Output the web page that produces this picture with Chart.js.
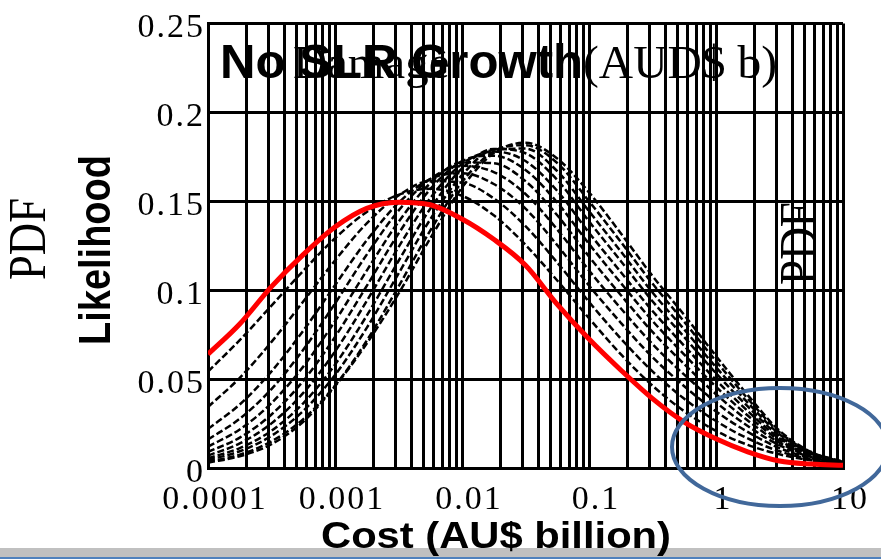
<!DOCTYPE html>
<html><head><meta charset="utf-8">
<script src="https://cdn.jsdelivr.net/npm/chart.js@4/dist/chart.umd.min.js"></script>
<style>html,body{margin:0;padding:0;background:#fff;}#wrap{position:relative;width:881px;height:559px;}canvas{display:block;}</style>
</head><body><div id="wrap"><canvas id="c"></canvas></div>
<script>
// Cost (AU$ billion) sample points on the log axis
const costX = [0.0001, 0.0001778, 0.0003162, 0.0005623, 0.001, 0.001778, 0.003162, 0.005623, 0.01, 0.01778, 0.03162, 0.05623, 0.1, 0.1778, 0.3162, 0.5623, 1, 1.778, 3.162, 5.623, 10];
// red: No SLR growth
const noSlr = [0.064, 0.081, 0.102, 0.120, 0.1355, 0.146, 0.1495, 0.148, 0.140, 0.1286, 0.114, 0.092, 0.0725, 0.0551, 0.039, 0.0258, 0.0164, 0.0091, 0.0039, 0.0022, 0.0015];
// black dashed family
const pdf01 = [0.0542, 0.0719, 0.0913, 0.1109, 0.1292, 0.1440, 0.1536, 0.1570, 0.1531, 0.1421, 0.1255, 0.1054, 0.0842, 0.0640, 0.0463, 0.0319, 0.0209, 0.0130, 0.0077, 0.0043, 0.0023];
const pdf02 = [0.0343, 0.0507, 0.0709, 0.0936, 0.1167, 0.1376, 0.1532, 0.1613, 0.1605, 0.1516, 0.1360, 0.1155, 0.0934, 0.0728, 0.0543, 0.0389, 0.0264, 0.0166, 0.0094, 0.0049, 0.0025];
const pdf03 = [0.0220, 0.0357, 0.0543, 0.0772, 0.1028, 0.1280, 0.1491, 0.1625, 0.1658, 0.1597, 0.1458, 0.1253, 0.1026, 0.0817, 0.0623, 0.0460, 0.0318, 0.0203, 0.0112, 0.0055, 0.0026];
const pdf04 = [0.0160, 0.0277, 0.0444, 0.0665, 0.0925, 0.1200, 0.1447, 0.1625, 0.1700, 0.1664, 0.1541, 0.1341, 0.1111, 0.0898, 0.0697, 0.0525, 0.0369, 0.0236, 0.0128, 0.0061, 0.0028];
const pdf05 = [0.0120, 0.0217, 0.0365, 0.0570, 0.0826, 0.1110, 0.1384, 0.1601, 0.1718, 0.1714, 0.1613, 0.1421, 0.1189, 0.0973, 0.0765, 0.0584, 0.0415, 0.0267, 0.0142, 0.0066, 0.0029];
const pdf06 = [0.0090, 0.0171, 0.0301, 0.0490, 0.0737, 0.1024, 0.1318, 0.1568, 0.1725, 0.1756, 0.1676, 0.1493, 0.1260, 0.1041, 0.0827, 0.0638, 0.0457, 0.0295, 0.0155, 0.0071, 0.0030];
const pdf07 = [0.0070, 0.0138, 0.0251, 0.0422, 0.0655, 0.0939, 0.1242, 0.1517, 0.1710, 0.1780, 0.1726, 0.1558, 0.1323, 0.1102, 0.0883, 0.0687, 0.0495, 0.0320, 0.0167, 0.0075, 0.0031];
const pdf08 = [0.0055, 0.0112, 0.0210, 0.0364, 0.0581, 0.0857, 0.1164, 0.1458, 0.1684, 0.1794, 0.1770, 0.1620, 0.1387, 0.1164, 0.0938, 0.0736, 0.0533, 0.0346, 0.0179, 0.0079, 0.0032];
const pdf09 = [0.0045, 0.0094, 0.0181, 0.0321, 0.0523, 0.0788, 0.1093, 0.1398, 0.1647, 0.1790, 0.1796, 0.1669, 0.1444, 0.1218, 0.0987, 0.0779, 0.0567, 0.0368, 0.0190, 0.0083, 0.0033];
const pdf10 = [0.0035, 0.0075, 0.0150, 0.0275, 0.0463, 0.0716, 0.1020, 0.1335, 0.1608, 0.1781, 0.1815, 0.1715, 0.1500, 0.1272, 0.1037, 0.0822, 0.0601, 0.0390, 0.0201, 0.0087, 0.0034];
const pdf11 = [0.0030, 0.0066, 0.0134, 0.0260, 0.0460, 0.0700, 0.0980, 0.1291, 0.1577, 0.1771, 0.1829, 0.1740, 0.1550, 0.1320, 0.1080, 0.0860, 0.0630, 0.0410, 0.0210, 0.0090, 0.0035];
const blackSeries = [pdf01, pdf02, pdf03, pdf04, pdf05, pdf06, pdf07, pdf08, pdf09, pdf10, pdf11];

// axes
const xDecades = [0.0001, 0.001, 0.01, 0.1, 1, 10];
const xTickLabels = ['0.0001', '0.001', '0.01', '0.1', '1', '10'];
const xMultipliers = [1, 2, 3, 4, 5, 6, 7, 8, 9];
const yTickValues = [0, 0.05, 0.1, 0.15, 0.2, 0.25];
const yTickLabels = ['0', '0.05', '0.1', '0.15', '0.2', '0.25'];

const xGridValues = [];
xDecades.forEach((d, i) => {
  if (i < xDecades.length - 1) xMultipliers.forEach(m => xGridValues.push(+(d * m).toPrecision(6)));
  else xGridValues.push(d);
});

function pts(arr) { return costX.map((x, i) => ({ x: x, y: arr[i] })); }

const datasets = [{
  label: 'No SLR Growth', data: pts(noSlr), borderColor: '#ff0000', borderWidth: 5,
  pointRadius: 0, cubicInterpolationMode: 'monotone', fill: false
}];
blackSeries.forEach((s, i) => datasets.push({
  label: 'PDF ' + (i + 1), data: pts(s), borderColor: '#000000', borderWidth: 2.5,
  borderDash: [7, 3], pointRadius: 0, cubicInterpolationMode: 'monotone', fill: false
}));

function fitText(ctx, text, font, x, y, len, rot, sy) {
  ctx.save();
  ctx.font = font;
  ctx.letterSpacing = '0px';
  ctx.fillStyle = '#000';
  ctx.textAlign = 'left';
  ctx.textBaseline = 'alphabetic';
  const w = ctx.measureText(text).width;
  ctx.translate(x, y);
  if (rot) ctx.rotate(rot * Math.PI / 180);
  ctx.scale(len ? len / w : 1, sy);
  ctx.fillText(text, 0, 0);
  ctx.restore();
}

const decor = {
  id: 'decor',
  beforeDraw(chart) { chart.ctx.letterSpacing = '2px'; },
  afterDraw(chart) {
    const ctx = chart.ctx;
    ctx.save();
    ctx.letterSpacing = '0px';
    ctx.fillStyle = '#c0c0c0';
    ctx.fillRect(0, 548, 881, 9);
    ctx.fillStyle = '#4f81bd';
    ctx.fillRect(0, 557, 881, 2);
    ctx.strokeStyle = '#41689a';
    ctx.lineWidth = 4;
    ctx.beginPath();
    ctx.ellipse(780, 447, 108, 59, 0, 0, Math.PI * 2);
    ctx.stroke();
    fitText(ctx, 'Damage', '47px "Liberation Serif"', 293, 78, 0, 0, 1);
    fitText(ctx, '(AUD$ b)', '47px "Liberation Serif"', 583, 78, 194, 0, 1);
    fitText(ctx, 'No SLR Growth', 'bold 49px "Liberation Sans"', 220, 78, 363, 0, 1);
    fitText(ctx, 'Cost (AU$ billion)', 'bold 36px "Liberation Sans"', 321, 548, 350, 0, 1);
    fitText(ctx, 'Likelihood', 'bold 38px "Liberation Sans"', 110, 345, 190, -90, 1.15);
    fitText(ctx, 'PDF', '45px "Liberation Serif"', 45, 280, 82, -90, 1.15);
    fitText(ctx, 'PDF', '45px "Liberation Serif"', 816, 285, 83, -90, 1.15);
    ctx.restore();
  }
};

new Chart(document.getElementById('c'), {
  type: 'line',
  data: { datasets: datasets },
  options: {
    responsive: true, maintainAspectRatio: false, animation: false,
    devicePixelRatio: 1,
    layout: { padding: { top: 13, right: 38, left: 0, bottom: 0 } },
    plugins: { legend: { display: false }, tooltip: { enabled: false }, title: { display: false } },
    scales: {
      x: {
        type: 'logarithmic', min: 0.0001, max: 10,
        afterFit(s) { s.height = 91; },
        afterBuildTicks(s) { s.ticks = xGridValues.map(v => ({ value: v })); },
        grid: { color: '#000', lineWidth: 3, drawTicks: false },
        border: { color: '#000', width: 3 },
        ticks: {
          autoSkip: false, maxRotation: 0, padding: 12, labelOffset: 7,
          color: '#000', font: { family: '"Liberation Serif"', size: 34 },
          callback(v) {
            const i = xDecades.findIndex(d => Math.abs(Math.log10(d) - Math.log10(v)) < 1e-6);
            return i >= 0 ? xTickLabels[i] : '';
          }
        }
      },
      y: {
        type: 'linear', min: 0, max: 0.25,
        afterFit(s) { s.width = 208; },
        afterBuildTicks(s) { s.ticks = yTickValues.map(v => ({ value: v })); },
        grid: { color: '#000', lineWidth: 3, drawTicks: false },
        border: { color: '#000', width: 3 },
        ticks: {
          padding: 3, labelOffset: 5, color: '#000',
          font: { family: '"Liberation Serif"', size: 34 },
          callback(v) {
            const i = yTickValues.findIndex(t => Math.abs(t - v) < 1e-9);
            return i >= 0 ? yTickLabels[i] : '';
          }
        }
      }
    }
  },
  plugins: [decor]
});
</script></body></html>
